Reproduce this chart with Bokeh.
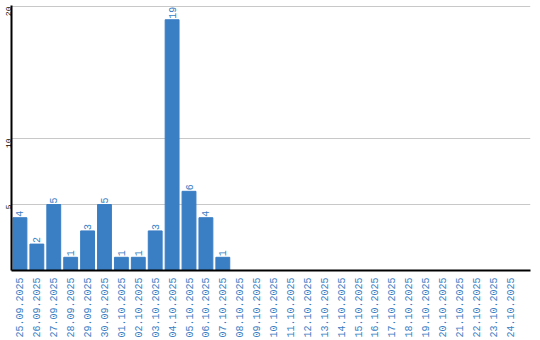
import math
from bokeh.plotting import figure
from bokeh.models import ColumnDataSource, FixedTicker, Range1d
from bokeh.core.properties import value
from bokeh.embed import file_html
from bokeh.resources import INLINE

dates = ["25.09.2025", "26.09.2025", "27.09.2025", "28.09.2025", "29.09.2025",
         "30.09.2025", "01.10.2025", "02.10.2025", "03.10.2025", "04.10.2025",
         "05.10.2025", "06.10.2025", "07.10.2025", "08.10.2025", "09.10.2025",
         "10.10.2025", "11.10.2025", "12.10.2025", "13.10.2025", "14.10.2025",
         "15.10.2025", "16.10.2025", "17.10.2025", "18.10.2025", "19.10.2025",
         "20.10.2025", "21.10.2025", "22.10.2025", "23.10.2025", "24.10.2025"]
counts = [4, 2, 5, 1, 3, 5, 1, 1, 3, 19, 6, 4, 1, 0, 0,
          0, 0, 0, 0, 0, 0, 0, 0, 0, 0, 0, 0, 0, 0, 0]
y_ticks = [5, 10, 20]

BLUE = "#3a7ec4"
FONT = "Liberation Mono"

xs = list(range(len(dates)))
src = ColumnDataSource(dict(x=xs, y=counts))
lab_x = [x for x, c in zip(xs, counts) if c > 0]
lab_y = [c for c in counts if c > 0]
lab_src = ColumnDataSource(dict(x=lab_x, y=lab_y, t=[str(c) for c in lab_y]))

p = figure(width=540, height=340, output_backend="svg", toolbar_location=None,
           x_range=Range1d(-0.5, 30.2), y_range=Range1d(0, 20.08),
           min_border_left=10, min_border_right=10, min_border_top=5, min_border_bottom=0)
p.outline_line_color = None
p.background_fill_color = "white"
p.border_fill_color = "white"

p.vbar(x="x", top="y", width=0.82, source=src, color=BLUE)
p.text(x="x", y="y", text="t", source=lab_src, angle=math.pi / 2,
       text_align="left", text_baseline="middle", y_offset=-1,
       text_font=value(FONT), text_font_size="10px", text_color=BLUE)

p.xgrid.visible = False
p.ygrid.ticker = FixedTicker(ticks=y_ticks)
p.ygrid.grid_line_color = "#c8c8c8"

xa = p.xaxis[0]
xa.ticker = FixedTicker(ticks=xs)
xa.major_label_overrides = {i: d for i, d in enumerate(dates)}
xa.major_label_orientation = math.pi / 2
xa.major_label_text_font = FONT
xa.major_label_text_font_size = "10px"
xa.major_label_text_color = BLUE
xa.major_tick_line_color = None
xa.minor_tick_line_color = None
xa.major_tick_out = 0
xa.minor_tick_out = 0
xa.axis_line_color = "black"
xa.axis_line_width = 2
xa.major_label_standoff = 7

ya = p.yaxis[0]
ya.ticker = FixedTicker(ticks=y_ticks)
ya.major_label_orientation = math.pi / 2
ya.major_label_text_font = FONT
ya.major_label_text_font_size = "8px"
ya.major_label_text_color = "black"
ya.major_tick_line_color = None
ya.minor_tick_line_color = None
ya.major_tick_out = 0
ya.minor_tick_out = 0
ya.axis_line_color = "black"
ya.axis_line_width = 2
ya.major_label_standoff = 3

open("out.html", "w").write(file_html(p, INLINE))
